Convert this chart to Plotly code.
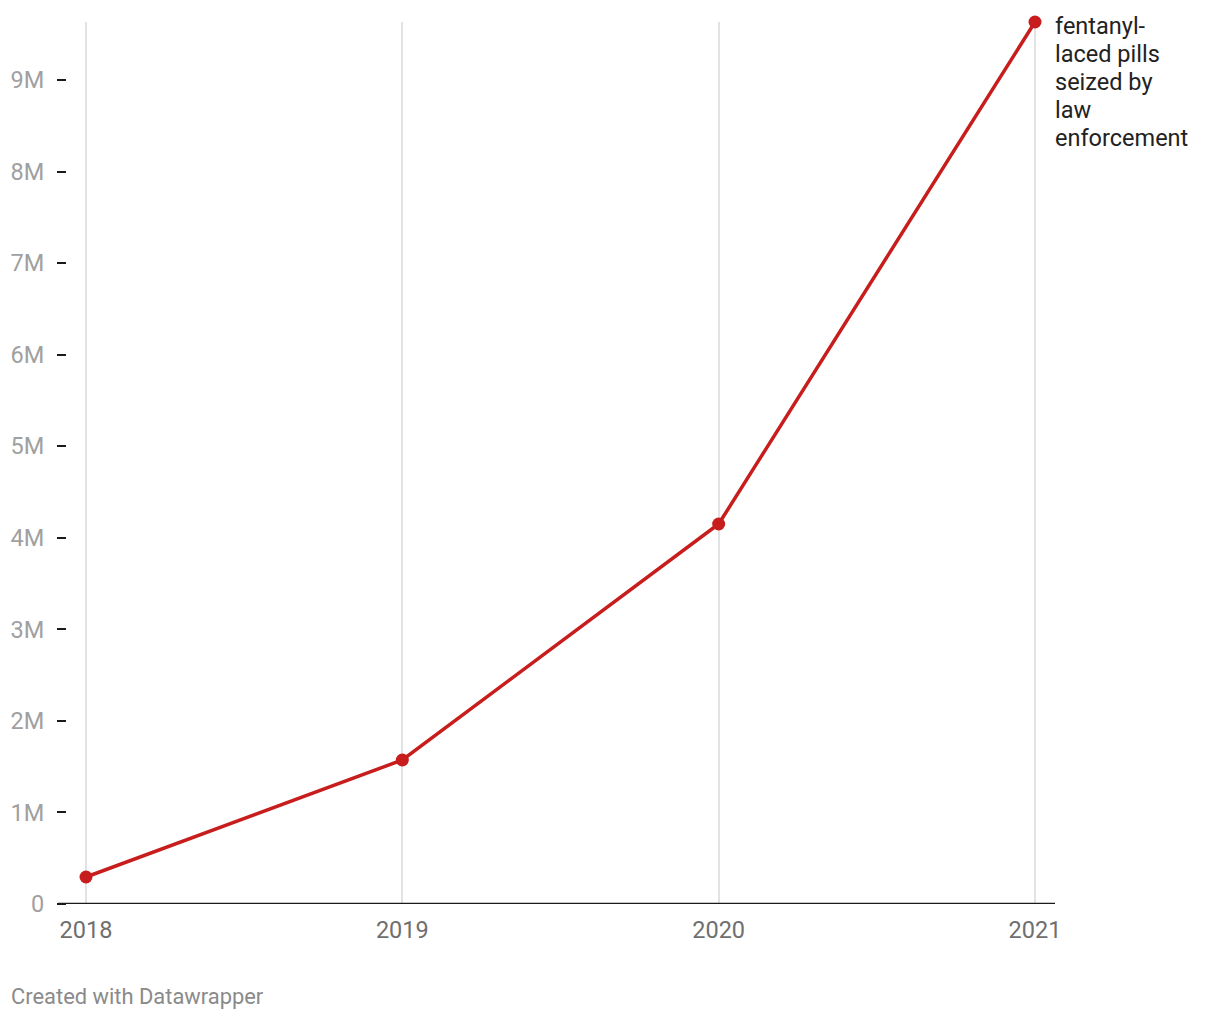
import plotly.graph_objects as go

years = [2018, 2019, 2020, 2021]
pills = [295000, 1573000, 4150000, 9633000]
series_label_lines = ["fentanyl-", "laced pills", "seized by", "law", "enforcement"]
y_tick_vals = [0, 1e6, 2e6, 3e6, 4e6, 5e6, 6e6, 7e6, 8e6, 9e6]
y_tick_text = ["0", "1M", "2M", "3M", "4M", "5M", "6M", "7M", "8M", "9M"]
x_tick_text = ["2018", "2019", "2020", "2021"]

OFF = 8  # page body margin
W, H = 1220 - 2 * OFF, 1020 - 2 * OFF
# plot area in page coordinates
PL, PR, PT, PB = 67, 1055, 22, 904
L, R, T, B = PL - OFF, PR - OFF, PT - OFF, PB - OFF
RED = "#c71e1d"

fig = go.Figure()
fig.add_trace(go.Scatter(
    x=years, y=pills, mode="lines+markers",
    line=dict(color=RED, width=3.5),
    marker=dict(color=RED, size=13),
    hoverinfo="skip", showlegend=False, cliponaxis=False,
))

px_per_year = (1035 - 86) / 3
x0 = 2018 - (86 - PL) / px_per_year
x1 = 2021 + (PR - 1035) / px_per_year
ymax = 9.633e6

def py(page_y):
    return (PB - page_y) / (PB - PT)

def pxp(page_x):
    return (page_x - PL) / (PR - PL)

annotations = []
for i, line in enumerate(series_label_lines):
    annotations.append(dict(
        text=line, xref="paper", yref="paper", x=pxp(1053), y=py(26 + 28 * i),
        xanchor="left", yanchor="middle", align="left", showarrow=False,
        font=dict(family="Roboto", size=23.5, color="#222"),
    ))
annotations.append(dict(
    text="Created with Datawrapper", xref="paper", yref="paper",
    x=pxp(9), y=py(996), xanchor="left", yanchor="middle",
    showarrow=False, font=dict(family="Roboto", size=21.9, color="#8a8a8a"),
))

fig.update_layout(
    width=W, height=H,
    margin=dict(l=L, r=W - R, t=T, b=H - B, pad=0, autoexpand=False),
    paper_bgcolor="white", plot_bgcolor="white",
    font=dict(family="Roboto", size=23.5, color="#222"),
    xaxis=dict(
        range=[x0, x1], tickvals=years, ticktext=x_tick_text,
        showgrid=True, gridcolor="#e3e3e3", gridwidth=2,
        zeroline=False, showline=False, ticks="",
        tickfont=dict(family="Roboto", size=23.5, color="#6f6f6f"),
        ticklabelstandoff=9, fixedrange=True, automargin=False,
    ),
    yaxis=dict(
        range=[0, ymax], tickvals=y_tick_vals, ticktext=y_tick_text,
        showgrid=False, zeroline=False, showline=False,
        ticks="outside", ticklen=9, tickwidth=2, tickcolor="#1a1a1a",
        tickfont=dict(family="Roboto", size=23.5, color="#a0a0a0"),
        ticklabelstandoff=8, fixedrange=True, automargin=False,
    ),
    shapes=[dict(
        type="line", xref="paper", yref="y",
        x0=-(PL - 58) / (PR - PL), x1=1, y0=0, y1=0,
        line=dict(color="#1a1a1a", width=2.5),
    )],
    annotations=annotations,
)

fig.write_html("out.html", config={"displayModeBar": False})
